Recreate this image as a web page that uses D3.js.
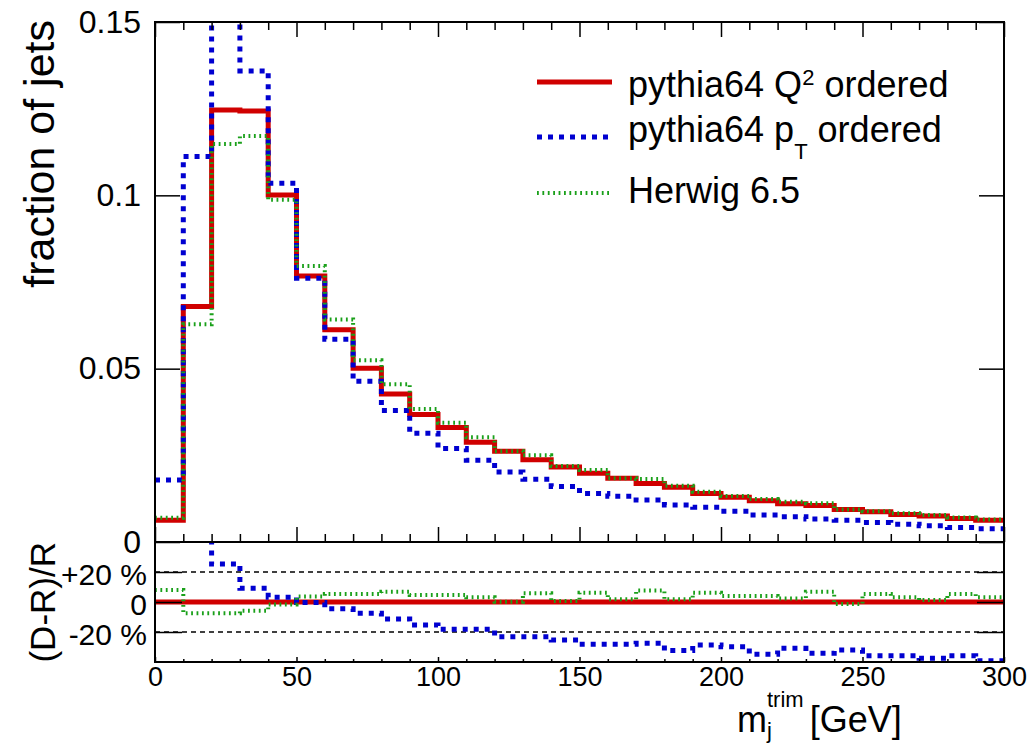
<!DOCTYPE html>
<html>
<head>
<meta charset="utf-8">
<script src="https://cdn.jsdelivr.net/npm/d3@7"></script>
<style>
  body { margin: 0; background: #fff; }
  svg { display: block; }
  text { font-family: "Liberation Sans", Arial, Helvetica, sans-serif; fill: #000; }
</style>
</head>
<body>
<div id="chart"></div>
<script>
// bins of 10 GeV from 0 to 300
const binLow = d3.range(0, 300, 10);
const xMax = 300;

// fraction of jets per bin
const pythiaQ2 = [0.0063, 0.0679, 0.1246, 0.1243, 0.1001, 0.0767, 0.0612, 0.0501, 0.0427, 0.0368,
                  0.0330, 0.0288, 0.0262, 0.0237, 0.0216, 0.0198, 0.0184, 0.0169, 0.0158, 0.0140,
                  0.0129, 0.0119, 0.0110, 0.0105, 0.0094, 0.0087, 0.0079, 0.0075, 0.0068, 0.0063];
const pythiaPt = [0.0179, 0.1112, 0.1570, 0.1359, 0.1035, 0.0761, 0.0585, 0.0464, 0.0379, 0.0314,
                  0.0270, 0.0236, 0.0202, 0.0181, 0.0160, 0.0140, 0.0132, 0.0121, 0.0107, 0.0100,
                  0.0089, 0.0078, 0.0073, 0.0066, 0.0063, 0.0056, 0.0051, 0.0047, 0.0042, 0.0038];
const herwig   = [0.0070, 0.0628, 0.1148, 0.1171, 0.0987, 0.0796, 0.0642, 0.0524, 0.0455, 0.0384,
                  0.0344, 0.0302, 0.0262, 0.0250, 0.0219, 0.0208, 0.0184, 0.0182, 0.0162, 0.0145,
                  0.0133, 0.0124, 0.0116, 0.0112, 0.0094, 0.0089, 0.0083, 0.0078, 0.0071, 0.0065];

// (D-R)/R in percent, R = pythia64 Q^2 ordered
const ratioQ2     = pythiaQ2.map(() => 0);
const ratioPt     = [180, 64, 25.3, 9.1, 3.1, -0.3, -4.5, -7.5, -11.3, -15.3,
                     -18.2, -18.2, -23.1, -23.1, -25.3, -28.2, -28.2, -27.5, -32.4, -28.7,
                     -29.8, -34.9, -30.9, -34.2, -32.0, -35.8, -35.8, -37.5, -35.8, -39.1];
const ratioHerwig = [8, -7.5, -7.5, -5.8, -1.6, 3.6, 5.3, 5.3, 6.9, 4.7,
                     4.7, 3.1, 0.2, 5.8, 0.7, 6.2, 1.8, 7.6, 1.8, 6.2,
                     4.0, 4.0, 2.4, 6.9, -1.3, 5.3, 3.1, 1.3, 5.3, 3.1];

const xMajor = [0, 50, 100, 150, 200, 250, 300];
const xMinor = d3.range(0, 301, 10).filter(v => v % 50 !== 0);
const yTicks = [0, 0.05, 0.1, 0.15];
const yTickLabels = ['0', '0.05', '0.1', '0.15'];
const rTicks = [-20, 0, 20];
const rTickLabels = ['-20 %', '0', '+20 %'];

const W = 1028, H = 747;
const L = 155, R = 1004;
const TOP = 22, MID = 542, BOT = 662;

const svg = d3.select('#chart').append('svg')
    .attr('width', W)
    .attr('height', H);

const x = d3.scaleLinear().domain([0, xMax]).range([L, R]);
const y = d3.scaleLinear().domain([0, 0.15]).range([MID, TOP]);
const yr = d3.scaleLinear().domain([-40, 40]).range([BOT, MID]);

const defs = svg.append('defs');
defs.append('clipPath').attr('id', 'clipTop')
    .append('rect').attr('x', L).attr('y', TOP).attr('width', R - L).attr('height', MID - TOP);
defs.append('clipPath').attr('id', 'clipBot')
    .append('rect').attr('x', L).attr('y', MID).attr('width', R - L).attr('height', BOT - MID);

const series = [
    { name: 'q2', top: pythiaQ2, ratio: ratioQ2, color: '#d00000', width: 5, dash: null },
    { name: 'pt', top: pythiaPt, ratio: ratioPt, color: '#0000d0', width: 5, dash: '5 6' },
    { name: 'hw', top: herwig, ratio: ratioHerwig, color: '#1aa01a', width: 4, dash: '1.8 3.6' }
];

function stepPoints(vals) {
    const pts = binLow.map((b, i) => [b, vals[i]]);
    pts.push([xMax, vals[vals.length - 1]]);
    return pts;
}

// dashed reference lines in ratio panel
svg.append('g')
    .selectAll('line')
    .data([-20, 20])
    .join('line')
    .attr('x1', L).attr('x2', R)
    .attr('y1', d => yr(d)).attr('y2', d => yr(d))
    .attr('stroke', '#000')
    .attr('stroke-width', 1.3)
    .attr('stroke-dasharray', '5 4');

// histograms
const topG = svg.append('g').attr('clip-path', 'url(#clipTop)');
const botG = svg.append('g').attr('clip-path', 'url(#clipBot)');

series.forEach(s => {
    const lineTop = d3.line().x(d => x(d[0])).y(d => y(d[1])).curve(d3.curveStepAfter);
    const lineBot = d3.line().x(d => x(d[0])).y(d => yr(d[1])).curve(d3.curveStepAfter);
    [[topG, lineTop(stepPoints(s.top))], [botG, lineBot(stepPoints(s.ratio))]].forEach(([g, d]) => {
        g.append('path')
            .attr('d', d)
            .attr('fill', 'none')
            .attr('stroke', s.color)
            .attr('stroke-width', s.width)
            .attr('stroke-dasharray', s.dash);
    });
});

// frames
svg.append('rect')
    .attr('x', L).attr('y', TOP).attr('width', R - L).attr('height', MID - TOP)
    .attr('fill', 'none').attr('stroke', '#000').attr('stroke-width', 2);
svg.append('rect')
    .attr('x', L).attr('y', MID).attr('width', R - L).attr('height', BOT - MID)
    .attr('fill', 'none').attr('stroke', '#000').attr('stroke-width', 2);

function cleanAxis(g) {
    g.select('.domain').remove();
    g.selectAll('.tick line').attr('stroke', '#000').attr('stroke-width', 1.5);
}

// top panel x ticks (bottom and top edges, pointing inward)
svg.append('g').attr('transform', `translate(0,${MID})`)
    .call(d3.axisBottom(x).tickValues(xMajor).tickSize(-15).tickFormat(''))
    .call(cleanAxis);
svg.append('g').attr('transform', `translate(0,${MID})`)
    .call(d3.axisBottom(x).tickValues(xMinor).tickSize(-8).tickFormat(''))
    .call(cleanAxis);
svg.append('g').attr('transform', `translate(0,${TOP})`)
    .call(d3.axisTop(x).tickValues(xMajor).tickSize(-15).tickFormat(''))
    .call(cleanAxis);
svg.append('g').attr('transform', `translate(0,${TOP})`)
    .call(d3.axisTop(x).tickValues(xMinor).tickSize(-8).tickFormat(''))
    .call(cleanAxis);

// top panel y axis
svg.append('g').attr('transform', `translate(${L},0)`)
    .call(d3.axisLeft(y).tickValues(yTicks).tickSize(-25).tickPadding(14)
        .tickFormat((d, i) => yTickLabels[i]))
    .call(cleanAxis)
    .call(g => g.selectAll('text').attr('font-size', 32));
svg.append('g').attr('transform', `translate(${R},0)`)
    .call(d3.axisRight(y).tickValues(yTicks).tickSize(-25).tickFormat(''))
    .call(cleanAxis);

// ratio panel x axis
svg.append('g').attr('transform', `translate(0,${BOT})`)
    .call(d3.axisBottom(x).tickValues(xMajor).tickSize(-5).tickPadding(5))
    .call(cleanAxis)
    .call(g => g.selectAll('text').attr('font-size', 27));
svg.append('g').attr('transform', `translate(0,${BOT})`)
    .call(d3.axisBottom(x).tickValues(xMinor).tickSize(-3).tickFormat(''))
    .call(cleanAxis);

// ratio panel y axis
svg.append('g').attr('transform', `translate(${L},0)`)
    .call(d3.axisLeft(yr).tickValues(rTicks).tickSize(-27).tickPadding(8)
        .tickFormat((d, i) => rTickLabels[i]))
    .call(cleanAxis)
    .call(g => g.selectAll('text').attr('font-size', 30).attr('dy', '0.4em'));
svg.append('g').attr('transform', `translate(${R},0)`)
    .call(d3.axisRight(yr).tickValues(rTicks).tickSize(-27).tickFormat(''))
    .call(cleanAxis);

// axis titles
svg.append('text')
    .attr('transform', `translate(54,${TOP - 2}) rotate(-90)`)
    .attr('text-anchor', 'end')
    .attr('font-size', 43)
    .text('fraction of jets');

svg.append('text')
    .attr('transform', `translate(55,${MID}) rotate(-90)`)
    .attr('text-anchor', 'end')
    .attr('font-size', 35)
    .text('(D-R)/R');

// x title: m_j^trim [GeV]
const xt = svg.append('g');
const m = xt.append('text').attr('x', 737).attr('y', 732).attr('font-size', 36).text('m');
const mW = m.node().getComputedTextLength();
xt.append('text').attr('x', 737 + mW).attr('y', 738).attr('font-size', 22).text('j');
const sup = xt.append('text').attr('x', 737 + mW).attr('y', 707).attr('font-size', 22).text('trim');
const supW = sup.node().getComputedTextLength();
xt.append('text').attr('x', 737 + mW + supW + 6).attr('y', 732).attr('font-size', 36).text('[GeV]');

// legend
const legendY = [82, 137, 193];
const legendBase = [97, 142, 203];
const legend = svg.append('g');
series.forEach((s, i) => {
    legend.append('line')
        .attr('x1', 537).attr('x2', 612)
        .attr('y1', legendY[i]).attr('y2', legendY[i])
        .attr('stroke', s.color)
        .attr('stroke-width', s.width)
        .attr('stroke-dasharray', s.dash);
});
const t0 = legend.append('text').attr('x', 628).attr('y', legendBase[0]).attr('font-size', 36);
t0.append('tspan').text('pythia64 Q');
t0.append('tspan').attr('font-size', 22).attr('dy', -12).text('2');
t0.append('tspan').attr('dy', 12).text(' ordered');

const t1 = legend.append('text').attr('x', 628).attr('y', legendBase[1]).attr('font-size', 36);
t1.append('tspan').text('pythia64 p');
t1.append('tspan').attr('font-size', 22).attr('dy', 17).text('T');
t1.append('tspan').attr('dy', -17).text(' ordered');

legend.append('text').attr('x', 628).attr('y', legendBase[2]).attr('font-size', 36).text('Herwig 6.5');
</script>
</body>
</html>
